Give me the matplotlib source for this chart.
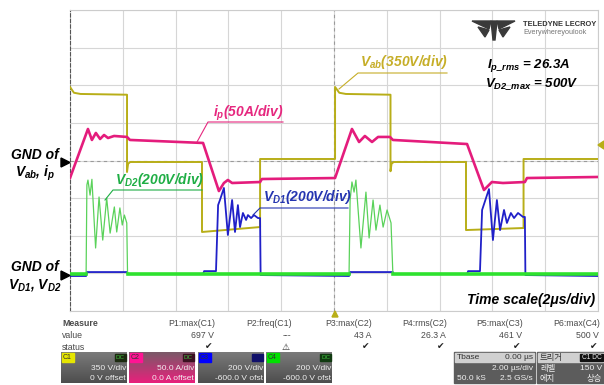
import numpy as np
import matplotlib
matplotlib.use("Agg")
import matplotlib.pyplot as plt
from matplotlib.colors import LinearSegmentedColormap
from matplotlib.patches import Rectangle, Polygon

plt.rcParams['font.family'] = ['Liberation Sans', 'DejaVu Sans']
plt.rcParams['mathtext.fontset'] = 'custom'
plt.rcParams['mathtext.rm'] = 'Liberation Sans:italic:bold'
plt.rcParams['mathtext.it'] = 'Liberation Sans:italic:bold'
plt.rcParams['mathtext.bf'] = 'Liberation Sans:italic:bold'

# -------------------------
# 波形データ (時間 µs, 値は物理量)
# -------------------------
vab_scale = 350.0   # V/div
ip_scale = 50.0     # A/div
vd_scale = 200.0    # V/div
vd_offset = -3.0    # div (-600 V offset)

vab_t = [0.00, 0.15, 0.40, 2.16, 2.16, 2.20, 2.28, 5.00, 5.00, 7.20, 7.20, 10.04,
         10.04, 10.20, 10.45, 12.14, 12.14, 12.18, 12.26, 15.00, 15.00, 17.18, 17.18, 20.00]
vab_v = [684, 630, 619, 612, -107, -30, -14, -14, -665, -619, 14, 14,
         684, 630, 619, 612, -100, -30, -14, -14, -647, -628, 14, 14]

ip_t = [0.00, 0.68, 0.83, 0.98, 1.14, 1.29, 1.44, 1.67, 2.16, 2.27, 5.04, 5.64, 5.83, 5.98,
        6.14, 7.20, 7.27, 10.04, 10.68, 10.95, 11.17, 11.44, 11.67, 12.12, 12.23, 15.04,
        15.68, 15.98, 16.40, 17.23, 17.31, 20.00]
ip_a = [-23.3, 41.9, 27.3, 36.6, 28.6, 33.9, 29.9, 32.6, 31.3, 27.3, 23.3, -40.6, -29.9, -25.9,
        -29.9, -28.6, -24.6, -23.3, 41.9, 24.6, 32.6, 24.6, 31.3, 31.3, 27.3, 21.9,
        -39.2, -28.6, -29.9, -28.6, -23.3, -21.9]

vd2_t = [0.00, 0.61, 0.64, 0.68, 0.76, 0.83, 0.97, 1.10, 1.24, 1.39, 1.52, 1.68, 1.77, 1.89,
         1.98, 2.06, 2.15, 2.18, 10.57, 10.61, 10.68, 10.76, 10.83, 11.02, 11.21, 11.33,
         11.48, 11.59, 11.74, 11.86, 12.01, 12.16, 12.23, 20.00]
vd2_v = [-4, -4, 470, 496, 416, 500, 135, 406, 177, 400, 214, 353, 220, 348,
         257, 310, 268, -4, -4, 390, 486, 432, 496, 135, 432, 188,
         390, 230, 363, 246, 337, 268, -4, -4]

vd1_t = [0.00, 0.61, 0.64, 2.16, 2.20, 5.04, 5.08, 5.53, 5.61, 5.68, 5.83, 5.98, 6.14, 6.25,
         6.36, 6.44, 6.55, 6.67, 6.74, 6.86, 6.97, 7.12, 7.20, 7.22, 10.57, 10.61, 12.23,
         12.27, 15.04, 15.08, 15.53, 15.61, 15.87, 16.02, 16.17, 16.29, 16.44, 16.55, 16.70,
         16.82, 16.97, 17.16, 17.23, 17.25, 20.00]
vd1_v = [-14, -14, 7, 7, -4, -4, 12, 12, 363, 390, 454, 204, 390, 220,
         363, 246, 321, 284, 310, 294, 310, 294, 294, -9, -14, 7, 7,
         -4, -4, 12, 12, 337, 448, 177, 390, 230, 337, 268, 321,
         294, 321, 300, 300, -9, -14]

# 測定パネル
meas_names = ["P1:max(C1)", "P2:freq(C1)", "P3:max(C2)", "P4:rms(C2)", "P5:max(C3)", "P6:max(C4)"]
meas_values = ["697 V", "---", "43 A", "26.3 A", "461 V", "500 V"]
meas_ok = [True, False, True, True, True, True]
ch_names = ["C1", "C2", "C3", "C4"]
ch_scales = ["350 V/div", "50.0 A/div", "200 V/div", "200 V/div"]
ch_offsets = ["0 V offset", "0.0 A offset", "-600.0 V ofst", "-600.0 V ofst"]

c_vab = "#b8ae18"
c_ip = "#e41c7c"
c_vd2 = "#5ad25a"
c_vd2g = "#2ee22e"
c_vd1 = "#2020c8"

# -------------------------
# 図とグリッド
# -------------------------
fig = plt.figure(figsize=(6.04, 3.85), dpi=100)
W, H = 604, 385
ax = fig.add_axes([70 / W, (H - 311) / H, 528 / W, 301 / H])
ax.set_xlim(0, 20)
ax.set_ylim(-4, 4)
ax.set_xticks(np.arange(0, 21, 2))
ax.set_yticks(np.arange(-4, 5, 1))
ax.grid(True, color="#d6d6d6", lw=0.8)
ax.tick_params(length=0, labelbottom=False, labelleft=False)
for s in ["top", "right", "bottom"]:
    ax.spines[s].set_color("#cccccc")
ax.spines["left"].set_color("#555555")
ax.spines["left"].set_linestyle((0, (3, 2)))
ax.axvline(10, color="#9a9a9a", lw=0.8, ls=(0, (3, 3)))
ax.axhline(0, color="#9a9a9a", lw=0.8, ls=(0, (3, 3)))

vab_div = np.array(vab_v) / vab_scale
ip_div = np.array(ip_a) / ip_scale
vd1_div = np.array(vd1_v) / vd_scale + vd_offset
vd2_arr = np.array(vd2_v, dtype=float)
vd2_div = vd2_arr / vd_scale + vd_offset
vd2_gnd = np.where(np.abs(vd2_arr) < 50, vd2_div, np.nan)

ax.plot(vab_t, vab_div, color=c_vab, lw=1.4, zorder=3)
ax.plot(ip_t, ip_div, color=c_ip, lw=1.9, zorder=4)
ax.plot(vd1_t, vd1_div, color=c_vd1, lw=1.3, zorder=3)
ax.plot(vd2_t, vd2_div, color=c_vd2, lw=0.9, zorder=4)
ax.plot(vd2_t, vd2_gnd, color=c_vd2g, lw=2.6, zorder=5)

# -------------------------
# 注釈 (ピクセル座標のオーバーレイ)
# -------------------------
ov = fig.add_axes([0, 0, 1, 1])
ov.axis("off")
bi = dict(fontweight="bold", style="italic", fontsize=10)

ov.text(360, 62, r"$V_{ab}$(350V/div)", color="#c6ae28", va="center", **bi)
ov.plot([339, 358, 447], [89, 73, 73], color="#c6ae28", lw=0.8)
ov.text(213, 113, r"$i_p$(50A/div)", color="#e6287f", va="center", **bi)
ov.plot([197, 208, 283], [142, 122, 122], color="#e6287f", lw=0.8)
ov.text(115, 180, r"$V_{D2}$(200V/div)", color="#1fae45", va="center", **bi)
ov.plot([105, 113, 202], [200, 190, 190], color="#1fae45", lw=0.8)
ov.text(263, 197, r"$V_{D1}$(200V/div)", color="#2535b0", va="center", **bi)
ov.plot([253, 260, 348], [215, 208, 208], color="#2535b0", lw=0.8)

bi2 = dict(fontweight="bold", style="italic", fontsize=9.5)
ov.text(487, 66, r"$I_{p\_rms}$ = 26.3A", color="black", va="center", **bi2)
ov.text(485, 84, r"$V_{D2\_max}$ = 500V", color="black", va="center", **bi2)
ov.text(595, 300, "Time scale(2\u03bcs/div)", color="black", ha="right", va="center", **bi)

ov.text(35, 155, "GND of", ha="center", va="center", **bi)
ov.text(35, 173, r"$V_{ab}$, $i_p$", ha="center", va="center", **bi)
ov.text(35, 267, "GND of", ha="center", va="center", **bi)
ov.text(35, 285, r"$V_{D1}$, $V_{D2}$", ha="center", va="center", **bi)
ov.add_patch(Polygon([(61, 158), (61, 167), (70, 162.5)], color="black"))
ov.add_patch(Polygon([(61, 271), (61, 280), (70, 275.5)], color="black"))
ov.add_patch(Polygon([(604, 141), (604, 149), (598, 145)], color=c_vab))
ov.add_patch(Polygon([(332, 317), (338, 317), (335, 311)], color=c_vab))

# ロゴ
ov.add_patch(Polygon([(472, 21), (491, 21), (489, 29)], color="#3a3a3a"))
ov.add_patch(Polygon([(497, 21), (515, 21), (499, 29)], color="#3a3a3a"))
ov.add_patch(Polygon([(491, 21), (497, 21), (495, 40), (493, 40)], color="#3a3a3a"))
ov.add_patch(Polygon([(478, 27), (489, 30), (485, 37)], color="#3a3a3a"))
ov.add_patch(Polygon([(510, 27), (499, 30), (503, 37)], color="#3a3a3a"))
ov.text(523, 24, "TELEDYNE LECROY", fontsize=5.4, fontweight="bold", color="#333333", va="center")
ov.text(523, 33, "Everywhereyoulook", fontsize=5.2, color="#777777", va="center")

# -------------------------
# 測定テーブル
# -------------------------
tk = dict(fontsize=6.3, color="#4a4a4a", va="center")
ov.text(62, 324, "Measure", fontweight="bold", **tk)
ov.text(62, 336, "value", **tk)
ov.text(62, 347, "status", **tk)
col_x = [215, 292, 372, 447, 523, 600]
for x, name, val, ok in zip(col_x, meas_names, meas_values, meas_ok):
    ov.text(x, 324, name, ha="right", **tk)
    ov.text(x - 1, 336, val, ha="right", **tk)
    ov.text(x - 6, 347, "\u2714" if ok else "\u26a0", ha="center", fontsize=6.5,
            color="#222222", va="center", family="DejaVu Sans")

# チャンネルボックス
box_x = [61, 129, 198, 266]
tag_colors = ["#e6e600", "#ff1493", "#0000ff", "#00e000"]
dc_colors = ["#1c2a10", "#3a1020", "#10106a", "#103a10"]
gray_cmap = LinearSegmentedColormap.from_list("g", ["#7a7a7a", "#4e4e4e"])
pink_cmap = LinearSegmentedColormap.from_list("p", ["#7a5a68", "#e8207c"])
grad = np.linspace(0, 1, 50).reshape(-1, 1)
for i, x0 in enumerate(box_x):
    x1 = x0 + 66
    cmap = pink_cmap if i == 1 else gray_cmap
    ov.imshow(grad, cmap=cmap, extent=(x0, x1, 383, 352), aspect="auto", zorder=1)
    ov.add_patch(Rectangle((x0 + 1, 353), 12, 9, color=tag_colors[i], zorder=2))
    ov.text(x0 + 2, 357.5, ch_names[i], fontsize=5, color="#333333", va="center", zorder=3)
    ov.add_patch(Rectangle((x1 - 12, 354), 11, 7, color=dc_colors[i], zorder=2))
    if i != 2:
        ov.text(x1 - 6.5, 357.5, "DC", fontsize=4.5, color="#40c040", ha="center",
                va="center", zorder=3)
    ov.text(x1 - 1, 369, ch_scales[i], fontsize=6, color="#f0f0f0", ha="right",
            va="center", zorder=3)
    ov.text(x1 - 1, 379, ch_offsets[i], fontsize=6, color="#f0f0f0", ha="right",
            va="center", zorder=3)

# タイムベース / トリガー
ov.add_patch(Rectangle((454, 352), 81, 31, color="#5c5c5c", zorder=1))
ov.add_patch(Rectangle((455, 353), 79, 9, color="#d0d0d0", zorder=2))
ov.text(457, 357.5, "Tbase", fontsize=6, color="#333333", va="center", zorder=3)
ov.text(533, 357.5, "0.00 \u00b5s", fontsize=6, color="#333333", ha="right", va="center", zorder=3)
ov.text(533, 369, "2.00 \u00b5s/div", fontsize=6, color="#f0f0f0", ha="right", va="center", zorder=3)
ov.text(457, 379, "50.0 kS", fontsize=6, color="#f0f0f0", va="center", zorder=3)
ov.text(533, 379, "2.5 GS/s", fontsize=6, color="#f0f0f0", ha="right", va="center", zorder=3)

kr = ["Noto Sans CJK KR", "DejaVu Sans"]
ov.add_patch(Rectangle((537, 352), 67, 31, color="#5c5c5c", zorder=1))
ov.add_patch(Rectangle((538, 353), 65, 9, color="#d0d0d0", zorder=2))
ov.add_patch(Rectangle((580, 354), 23, 7, color="#111111", zorder=2))
ov.text(540, 357.5, "트리거", fontsize=6, color="#333333", va="center", family=kr, zorder=3)
ov.text(591.5, 357.5, "C1 DC", fontsize=4.8, color="#f0f0f0", ha="center", va="center", zorder=3)
ov.text(540, 369, "레벨", fontsize=6, color="#f0f0f0", va="center", family=kr, zorder=3)
ov.text(602, 369, "150 V", fontsize=6, color="#f0f0f0", ha="right", va="center", zorder=3)
ov.text(540, 379, "에지", fontsize=6, color="#f0f0f0", va="center", family=kr, zorder=3)
ov.text(602, 379, "상승", fontsize=6, color="#f0f0f0", ha="right", va="center", family=kr, zorder=3)

ov.set_xlim(0, W)
ov.set_ylim(H, 0)

fig.savefig("out.png", dpi=100)
